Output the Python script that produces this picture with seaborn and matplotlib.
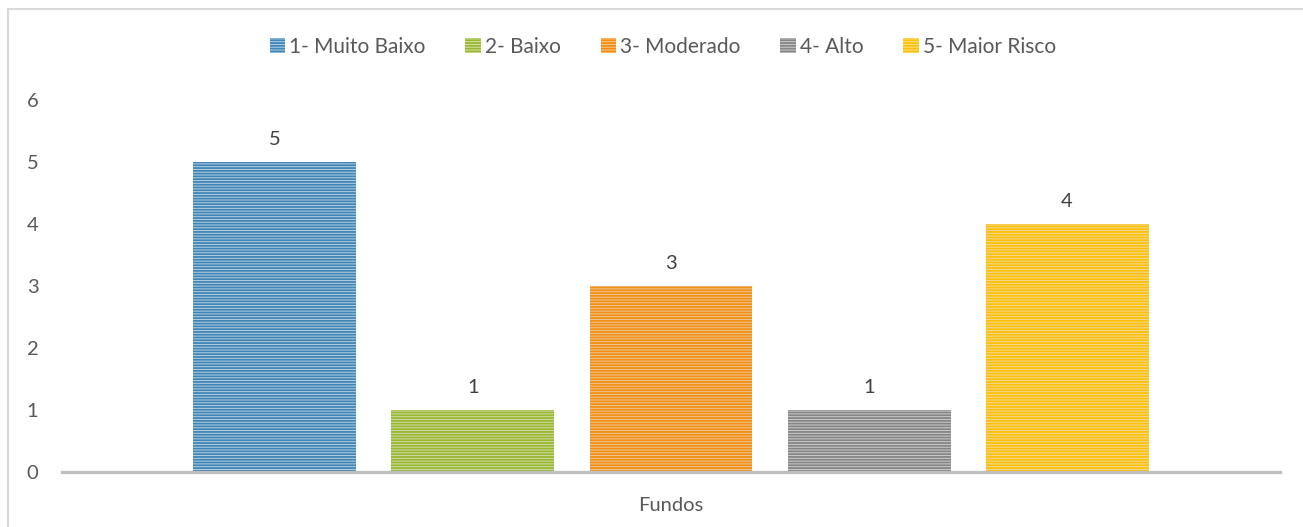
import matplotlib
matplotlib.use("Agg")
import matplotlib.pyplot as plt
from matplotlib.patches import Rectangle, Patch
import seaborn as sns
import pandas as pd

# Risk-class counts for the funds
categoria = ["Fundos"]
classes = ["1- Muito Baixo", "2- Baixo", "3- Moderado", "4- Alto", "5- Maior Risco"]
valores = [5, 1, 3, 1, 4]
ticks_y = [0, 1, 2, 3, 4, 5, 6]

# stripe (dark) and background (light) tones for each class
cores_listra = ["#3f86b6", "#98b82f", "#f38f12", "#858585", "#fcbf0a"]
cores_fundo = ["#b3d1e6", "#d5e3a4", "#fac88e", "#cdcdcd", "#fee38c"]

df = pd.DataFrame({
    "grupo": categoria * len(classes),
    "classe": classes,
    "valor": valores,
})

sns.set_theme(style="white")
plt.rcParams["font.family"] = ["Lato", "DejaVu Sans"]
plt.rcParams["hatch.linewidth"] = 1.3

fig = plt.figure(figsize=(13.03, 5.27), dpi=100)
ax = fig.add_axes([62 / 1303, 55 / 527, 1218 / 1303, 372 / 527])

sns.barplot(data=df, x="grupo", y="valor", hue="classe", hue_order=classes,
            palette=cores_fundo, width=0.813, gap=0.177, ax=ax,
            legend=False, errorbar=None)

for barra, listra in zip(ax.patches, cores_listra):
    barra.set_hatch("------")
    barra.set_edgecolor(listra)
    barra.set_linewidth(0)

for cont in ax.containers:
    ax.bar_label(cont, labels=[f"{v:g}" for v in cont.datavalues],
                 padding=10, fontsize=14.5, color="#404040")

ax.set_ylim(0, 6)
ax.set_xlim(-0.5, 0.5)
ax.set_yticks(ticks_y)
ax.set_yticklabels([str(t) for t in ticks_y])
ax.tick_params(axis="y", length=0, pad=17, labelsize=14.5, labelcolor="#595959")
ax.tick_params(axis="x", length=0, pad=18, labelsize=14.5, labelcolor="#595959")
ax.set_xlabel("")
ax.set_ylabel("")

for lado in ["top", "right", "left"]:
    ax.spines[lado].set_visible(False)
ax.spines["bottom"].set_color("#bfbfbf")
ax.spines["bottom"].set_linewidth(2.4)

alcas = [Patch(facecolor=f, edgecolor=l, hatch="------", linewidth=0)
         for f, l in zip(cores_fundo, cores_listra)]
fig.legend(alcas, classes, loc="center", bbox_to_anchor=(663 / 1303, 1 - 47 / 527),
           ncol=5, frameon=False, fontsize=15, labelcolor="#595959",
           handlelength=0.75, handleheight=0.75, handletextpad=0.2,
           columnspacing=1.9)

# chart area border
fig.patches.append(Rectangle((8 / 1303, -0.1), 1.2, 1 - 9 / 527 + 0.1,
                             transform=fig.transFigure, fill=False,
                             edgecolor="#d9d9d9", linewidth=1.5))

fig.savefig("out.png", dpi=100, facecolor="white")
